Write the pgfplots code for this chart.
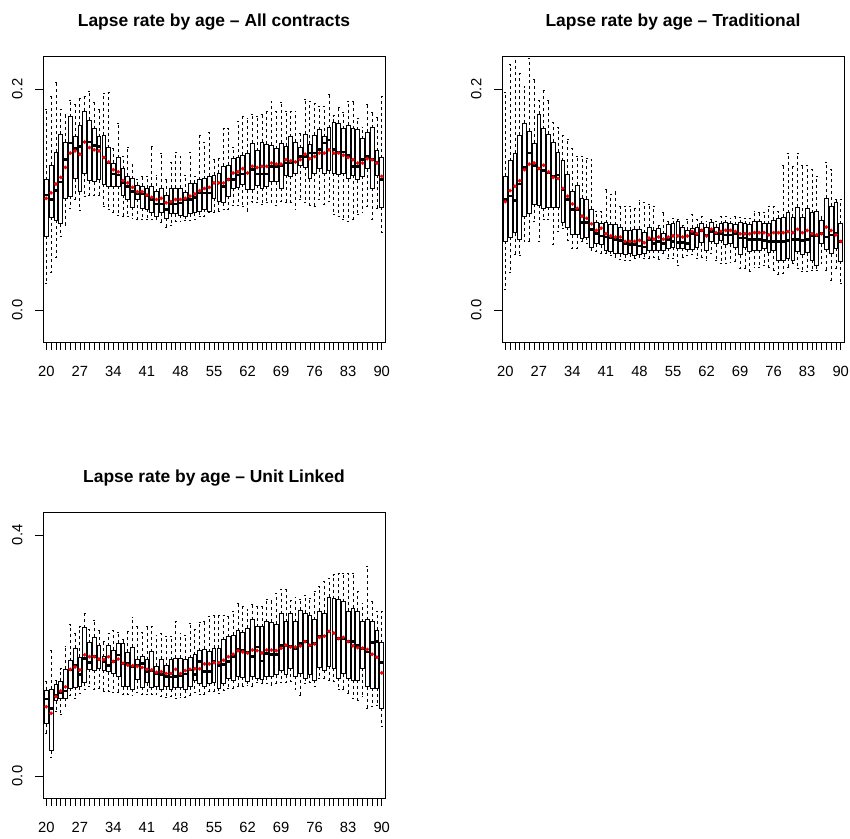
\documentclass[border=0pt]{standalone}
\usepackage{fontspec}
\setmainfont{Liberation Sans}
\usepackage{pgfplots}
\usepackage{pgfplotstable}
\pgfplotsset{compat=1.18}
\usepgfplotslibrary{statistics}

\pgfplotstableread{
lw q1 med q3 uw mean
0.024 0.067 0.104 0.118 0.182 0.101
0.034 0.084 0.100 0.131 0.193 0.106
0.048 0.081 0.108 0.143 0.206 0.114
0.067 0.078 0.116 0.159 0.182 0.120
0.077 0.101 0.136 0.152 0.177 0.129
0.092 0.103 0.151 0.175 0.190 0.142
0.100 0.119 0.146 0.157 0.186 0.144
0.090 0.107 0.148 0.167 0.192 0.141
0.103 0.124 0.152 0.180 0.193 0.152
0.104 0.117 0.152 0.172 0.198 0.147
0.104 0.116 0.149 0.164 0.188 0.145
0.104 0.118 0.148 0.157 0.182 0.144
0.094 0.114 0.138 0.158 0.196 0.138
0.091 0.112 0.133 0.147 0.197 0.134
0.088 0.112 0.123 0.133 0.146 0.127
0.086 0.112 0.122 0.138 0.169 0.125
0.085 0.104 0.115 0.128 0.139 0.117
0.085 0.100 0.112 0.121 0.147 0.115
0.083 0.093 0.107 0.119 0.132 0.111
0.082 0.100 0.105 0.113 0.118 0.107
0.082 0.092 0.105 0.112 0.121 0.107
0.082 0.091 0.103 0.110 0.121 0.104
0.082 0.088 0.100 0.112 0.148 0.102
0.082 0.085 0.096 0.107 0.122 0.100
0.079 0.088 0.096 0.110 0.142 0.101
0.075 0.083 0.091 0.104 0.118 0.097
0.077 0.087 0.096 0.110 0.134 0.098
0.080 0.087 0.096 0.110 0.143 0.100
0.080 0.086 0.097 0.110 0.139 0.100
0.081 0.085 0.100 0.106 0.122 0.101
0.081 0.087 0.100 0.115 0.143 0.103
0.082 0.088 0.102 0.115 0.121 0.105
0.085 0.089 0.106 0.118 0.158 0.108
0.085 0.091 0.106 0.119 0.152 0.110
0.088 0.089 0.106 0.121 0.161 0.111
0.088 0.101 0.115 0.122 0.136 0.115
0.089 0.098 0.115 0.124 0.137 0.115
0.091 0.097 0.112 0.130 0.164 0.115
0.091 0.103 0.118 0.131 0.164 0.118
0.095 0.110 0.118 0.137 0.147 0.124
0.095 0.111 0.122 0.138 0.171 0.125
0.094 0.114 0.123 0.140 0.175 0.128
0.089 0.109 0.124 0.142 0.173 0.124
0.098 0.109 0.127 0.151 0.177 0.130
0.097 0.113 0.123 0.144 0.175 0.129
0.096 0.110 0.123 0.152 0.177 0.130
0.097 0.112 0.123 0.150 0.180 0.130
0.097 0.116 0.130 0.149 0.189 0.133
0.095 0.116 0.130 0.146 0.180 0.132
0.098 0.110 0.131 0.151 0.188 0.132
0.097 0.122 0.133 0.148 0.180 0.136
0.097 0.121 0.133 0.157 0.180 0.135
0.091 0.124 0.134 0.152 0.180 0.134
0.100 0.131 0.139 0.147 0.160 0.136
0.097 0.129 0.139 0.159 0.191 0.141
0.095 0.119 0.142 0.150 0.189 0.137
0.094 0.124 0.142 0.158 0.187 0.139
0.100 0.128 0.145 0.163 0.184 0.142
0.096 0.124 0.151 0.157 0.184 0.142
0.098 0.126 0.154 0.165 0.195 0.145
0.087 0.124 0.145 0.170 0.176 0.142
0.085 0.123 0.143 0.169 0.183 0.142
0.082 0.124 0.143 0.164 0.179 0.140
0.080 0.119 0.140 0.167 0.189 0.138
0.082 0.122 0.130 0.164 0.189 0.136
0.087 0.118 0.130 0.163 0.173 0.133
0.088 0.121 0.136 0.155 0.165 0.133
0.094 0.128 0.139 0.161 0.186 0.137
0.082 0.110 0.136 0.165 0.179 0.136
0.092 0.122 0.134 0.144 0.174 0.133
0.070 0.093 0.118 0.138 0.193 0.121
}\tA

\pgfplotstableread{
lw q1 med q3 uw mean
0.019 0.062 0.100 0.121 0.197 0.098
0.034 0.066 0.103 0.135 0.222 0.108
0.050 0.070 0.099 0.142 0.230 0.112
0.049 0.064 0.114 0.158 0.214 0.117
0.062 0.085 0.129 0.169 0.202 0.127
0.062 0.087 0.142 0.162 0.228 0.132
0.080 0.096 0.131 0.151 0.209 0.133
0.062 0.095 0.128 0.177 0.190 0.128
0.082 0.092 0.126 0.164 0.199 0.131
0.082 0.093 0.124 0.159 0.190 0.125
0.059 0.093 0.121 0.152 0.170 0.120
0.071 0.093 0.122 0.143 0.165 0.119
0.074 0.079 0.109 0.135 0.158 0.110
0.063 0.075 0.100 0.123 0.154 0.103
0.056 0.068 0.091 0.107 0.146 0.096
0.056 0.068 0.091 0.113 0.139 0.092
0.062 0.065 0.079 0.101 0.139 0.085
0.060 0.066 0.079 0.100 0.137 0.083
0.054 0.057 0.073 0.091 0.136 0.078
0.053 0.060 0.069 0.079 0.089 0.072
0.051 0.059 0.067 0.078 0.089 0.074
0.051 0.054 0.066 0.079 0.109 0.069
0.049 0.053 0.065 0.077 0.105 0.067
0.048 0.051 0.064 0.077 0.107 0.066
0.046 0.051 0.063 0.075 0.094 0.066
0.045 0.050 0.060 0.072 0.094 0.062
0.045 0.051 0.059 0.072 0.094 0.062
0.047 0.049 0.059 0.073 0.092 0.062
0.048 0.050 0.058 0.073 0.099 0.063
0.047 0.051 0.057 0.070 0.097 0.061
0.047 0.054 0.064 0.075 0.096 0.065
0.048 0.054 0.060 0.072 0.094 0.064
0.046 0.054 0.062 0.074 0.077 0.066
0.051 0.054 0.060 0.069 0.088 0.064
0.047 0.056 0.064 0.077 0.080 0.066
0.047 0.057 0.062 0.078 0.083 0.067
0.040 0.056 0.061 0.080 0.082 0.067
0.048 0.056 0.061 0.075 0.077 0.066
0.049 0.055 0.060 0.072 0.082 0.067
0.050 0.055 0.069 0.074 0.087 0.071
0.047 0.057 0.068 0.075 0.082 0.069
0.048 0.061 0.072 0.078 0.085 0.072
0.045 0.054 0.068 0.075 0.080 0.067
0.051 0.062 0.071 0.079 0.082 0.073
0.045 0.060 0.069 0.075 0.080 0.070
0.042 0.063 0.069 0.078 0.085 0.071
0.042 0.059 0.068 0.079 0.085 0.072
0.043 0.060 0.068 0.078 0.083 0.072
0.044 0.057 0.069 0.077 0.085 0.071
0.038 0.050 0.065 0.079 0.084 0.069
0.038 0.057 0.065 0.078 0.083 0.069
0.035 0.053 0.064 0.077 0.083 0.069
0.039 0.054 0.064 0.080 0.089 0.070
0.039 0.054 0.064 0.080 0.088 0.070
0.040 0.056 0.063 0.078 0.088 0.070
0.039 0.052 0.062 0.078 0.094 0.068
0.036 0.054 0.062 0.081 0.094 0.070
0.032 0.045 0.062 0.083 0.089 0.070
0.033 0.045 0.062 0.084 0.131 0.070
0.039 0.047 0.063 0.088 0.142 0.071
0.042 0.045 0.064 0.084 0.130 0.070
0.038 0.053 0.064 0.093 0.142 0.073
0.035 0.050 0.063 0.084 0.131 0.070
0.035 0.052 0.064 0.092 0.131 0.072
0.036 0.045 0.067 0.088 0.127 0.069
0.036 0.040 0.067 0.089 0.121 0.068
0.042 0.060 0.069 0.081 0.085 0.069
0.036 0.055 0.066 0.101 0.134 0.075
0.027 0.051 0.068 0.094 0.127 0.072
0.038 0.056 0.069 0.097 0.100 0.068
0.024 0.044 0.062 0.078 0.100 0.062
}\tB

\pgfplotstableread{
lw q1 med q3 uw mean
0.070 0.087 0.128 0.142 0.157 0.115
0.031 0.042 0.112 0.144 0.208 0.104
0.107 0.125 0.134 0.152 0.158 0.132
0.103 0.129 0.139 0.157 0.178 0.141
0.116 0.129 0.141 0.177 0.215 0.148
0.134 0.146 0.176 0.191 0.251 0.177
0.129 0.147 0.184 0.212 0.237 0.181
0.137 0.148 0.168 0.197 0.248 0.176
0.143 0.155 0.195 0.246 0.270 0.201
0.148 0.177 0.188 0.221 0.243 0.198
0.144 0.176 0.198 0.230 0.259 0.198
0.146 0.179 0.193 0.216 0.242 0.194
0.140 0.176 0.190 0.198 0.223 0.193
0.140 0.173 0.183 0.216 0.237 0.198
0.138 0.170 0.190 0.209 0.242 0.190
0.138 0.165 0.201 0.220 0.238 0.194
0.136 0.148 0.187 0.220 0.226 0.187
0.136 0.148 0.187 0.205 0.240 0.184
0.133 0.144 0.182 0.214 0.263 0.183
0.138 0.160 0.183 0.194 0.248 0.182
0.135 0.147 0.187 0.198 0.238 0.180
0.136 0.155 0.173 0.193 0.248 0.177
0.135 0.147 0.175 0.206 0.248 0.176
0.136 0.148 0.170 0.182 0.234 0.172
0.132 0.144 0.168 0.194 0.237 0.173
0.130 0.148 0.165 0.183 0.231 0.170
0.132 0.144 0.164 0.193 0.231 0.170
0.128 0.147 0.165 0.195 0.256 0.177
0.130 0.147 0.166 0.195 0.237 0.170
0.131 0.143 0.169 0.194 0.234 0.175
0.134 0.148 0.176 0.196 0.253 0.177
0.138 0.159 0.168 0.201 0.243 0.178
0.136 0.154 0.190 0.208 0.255 0.178
0.136 0.149 0.173 0.210 0.256 0.186
0.140 0.154 0.173 0.206 0.265 0.186
0.140 0.155 0.190 0.212 0.266 0.188
0.137 0.146 0.183 0.212 0.266 0.188
0.142 0.154 0.185 0.226 0.267 0.192
0.145 0.162 0.190 0.231 0.265 0.198
0.146 0.159 0.198 0.234 0.273 0.202
0.149 0.165 0.210 0.241 0.286 0.208
0.149 0.164 0.208 0.238 0.281 0.206
0.151 0.157 0.205 0.245 0.276 0.204
0.148 0.165 0.198 0.259 0.284 0.209
0.155 0.162 0.214 0.248 0.281 0.208
0.154 0.160 0.191 0.248 0.281 0.204
0.153 0.165 0.203 0.256 0.293 0.209
0.151 0.166 0.202 0.255 0.292 0.209
0.153 0.168 0.202 0.252 0.303 0.208
0.155 0.176 0.217 0.269 0.310 0.212
0.155 0.168 0.217 0.256 0.309 0.217
0.157 0.179 0.215 0.269 0.292 0.214
0.143 0.166 0.212 0.256 0.297 0.214
0.134 0.170 0.220 0.275 0.293 0.216
0.153 0.162 0.223 0.270 0.299 0.223
0.155 0.168 0.217 0.267 0.295 0.217
0.148 0.159 0.220 0.259 0.306 0.219
0.162 0.181 0.231 0.273 0.314 0.230
0.162 0.176 0.232 0.270 0.323 0.232
0.159 0.182 0.240 0.297 0.328 0.240
0.157 0.179 0.237 0.294 0.334 0.237
0.143 0.162 0.228 0.293 0.336 0.228
0.143 0.170 0.228 0.289 0.336 0.230
0.137 0.162 0.223 0.273 0.336 0.223
0.129 0.159 0.223 0.278 0.336 0.216
0.126 0.159 0.217 0.273 0.307 0.213
0.132 0.179 0.212 0.256 0.287 0.212
0.112 0.148 0.206 0.259 0.347 0.210
0.115 0.146 0.221 0.256 0.289 0.202
0.118 0.146 0.223 0.242 0.273 0.197
0.082 0.112 0.188 0.221 0.273 0.171
}\tC

\pgfplotsset{
  rpanel/.style={
    scale only axis, width=342bp, height=286bp,
    anchor=south west,
    xmin=0.31, xmax=71.69,
    axis line style={line width=0.8bp},
    tick style={black, line width=0.6bp},
    major tick length=8bp, minor tick length=8bp,
    tick align=outside, xtick pos=bottom, ytick pos=left,
    xtick={1,8,...,71},
    xticklabels={20,27,34,41,48,55,62,69,76,83,90},
    minor xtick={1,...,71},
    /pgf/number format/assume math mode=true,
    tick label style={font=\fontsize{14.8}{17}\selectfont},
    xticklabel style={yshift=-13bp},
    yticklabel style={xshift=-9bp, rotate=90, anchor=south},
    title style={font=\bfseries\fontsize{17.5}{20}\selectfont, at={(0.5,1)}, anchor=base, yshift=24bp},
    boxplot/draw direction=y,
    boxplot/box extend=0.78,
    boxplot/whisker extend=0.39,
    boxplot/every whisker/.style={line width=0.7bp, dash pattern=on 3bp off 3bp},
    boxplot/every median/.style={line width=2.6bp},
  },
  rbox/.style={black, line width=0.8bp, solid},
  rmean/.style={only marks, mark=*, mark size=1.7bp, draw=red, fill=red, color=red},
}

% one prepared box per table row: #1 table, #2 row index
\newcommand\rboxrow[2]{%
  \pgfplotstablegetelem{#2}{lw}\of{#1}\let\vlw\pgfplotsretval
  \pgfplotstablegetelem{#2}{q1}\of{#1}\let\vqa\pgfplotsretval
  \pgfplotstablegetelem{#2}{med}\of{#1}\let\vmd\pgfplotsretval
  \pgfplotstablegetelem{#2}{q3}\of{#1}\let\vqc\pgfplotsretval
  \pgfplotstablegetelem{#2}{uw}\of{#1}\let\vuw\pgfplotsretval
  \pgfmathtruncatemacro\vpos{#2+1}%
  \edef\rtmp{\noexpand\addplot[rbox, boxplot prepared={draw position=\vpos,
    lower whisker=\vlw, lower quartile=\vqa, median=\vmd,
    upper quartile=\vqc, upper whisker=\vuw}] coordinates {};}%
  \rtmp
}

\begin{document}
\begin{tikzpicture}
\path[use as bounding box] (0,0) rectangle (850bp,839bp);

\begin{axis}[rpanel, at={(43bp,497bp)}, ymin=-0.029, ymax=0.2299,
  ytick={0,0.2}, yticklabels={0.0,0.2},
  title={Lapse rate by age – All contracts}]
\pgfplotsinvokeforeach{0,...,70}{\rboxrow{\tA}{#1}}
\addplot[rmean] table[x expr=\coordindex+1, y=mean] {\tA};
\end{axis}

\begin{axis}[rpanel, at={(502bp,497bp)}, ymin=-0.029, ymax=0.2299,
  ytick={0,0.2}, yticklabels={0.0,0.2},
  title={Lapse rate by age – Traditional}]
\pgfplotsinvokeforeach{0,...,70}{\rboxrow{\tB}{#1}}
\addplot[rmean] table[x expr=\coordindex+1, y=mean] {\tB};
\end{axis}

\begin{axis}[rpanel, at={(43bp,41bp)}, ymin=-0.0365, ymax=0.438,
  ytick={0,0.4}, yticklabels={0.0,0.4},
  title={Lapse rate by age – Unit Linked}]
\pgfplotsinvokeforeach{0,...,70}{\rboxrow{\tC}{#1}}
\addplot[rmean] table[x expr=\coordindex+1, y=mean] {\tC};
\end{axis}
\end{tikzpicture}
\end{document}
